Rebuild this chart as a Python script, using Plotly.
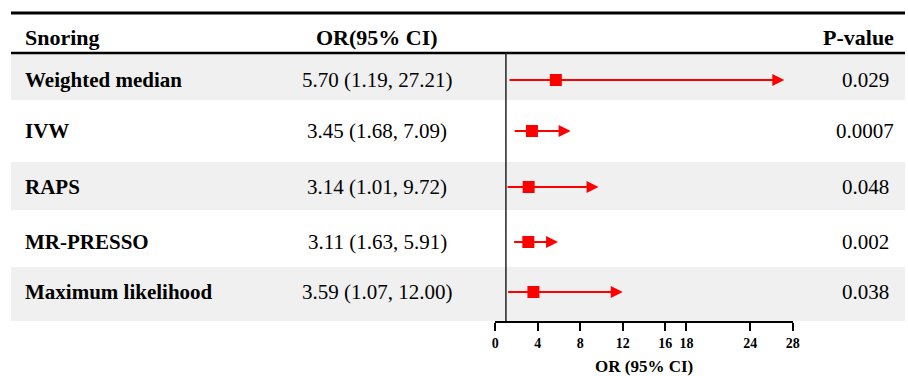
import plotly.graph_objects as go

# ---- data -------------------------------------------------------------
methods = ["Weighted median", "IVW", "RAPS", "MR-PRESSO", "Maximum likelihood"]
or_est = [5.70, 3.45, 3.14, 3.11, 3.59]
ci_low = [1.19, 1.68, 1.01, 1.63, 1.07]
ci_high = [27.21, 7.09, 9.72, 5.91, 12.00]
p_values = ["0.029", "0.0007", "0.048", "0.002", "0.038"]
x_ticks = [0, 4, 8, 12, 16, 18, 24, 28]

# ---- layout geometry (pixels, y grows downward) -----------------------
W, H = 908, 376
TABLE_L, TABLE_R = 11, 905
TOP_RULE_Y, HEAD_RULE_Y, HEAD_Y = 13, 53, 37
row_edges = [54, 100, 162, 210, 267, 321]
row_mid = [80, 131, 187, 242, 292]
AXIS_Y = row_edges[-1]
AXIS_TITLE_Y = 366
PLOT_L, PLOT_R = 495.3, 792.7

SERIF = "Liberation Serif, Times New Roman, serif"
RED = "#ff0000"


def px(x):
    return x / W


def py(y):
    return 1 - y / H


fig = go.Figure()

# point estimates
fig.add_trace(go.Scatter(
    x=or_est, y=row_mid, mode="markers",
    marker=dict(symbol="square", size=12, color=RED, line=dict(width=0)),
    hoverinfo="skip", showlegend=False,
))

shapes = []
# shaded rows
for i in range(0, len(methods), 2):
    shapes.append(dict(type="rect", xref="paper", yref="y",
                       x0=px(TABLE_L), x1=px(TABLE_R),
                       y0=row_edges[i], y1=row_edges[i + 1],
                       fillcolor="#f0f0f0", line=dict(width=0), layer="below"))
# table rules
shapes.append(dict(type="line", xref="paper", yref="y", x0=px(TABLE_L), x1=px(TABLE_R),
                   y0=TOP_RULE_Y, y1=TOP_RULE_Y, line=dict(color="black", width=3)))
shapes.append(dict(type="line", xref="paper", yref="y", x0=px(TABLE_L), x1=px(TABLE_R),
                   y0=HEAD_RULE_Y, y1=HEAD_RULE_Y, line=dict(color="black", width=2.5)))
# reference line at OR = 1
shapes.append(dict(type="line", xref="x", yref="y", x0=1, x1=1,
                   y0=HEAD_RULE_Y, y1=AXIS_Y, line=dict(color="#222222", width=1.5)))

annotations = []
# confidence intervals drawn as arrows ending at the upper limit
for lo, hi, y in zip(ci_low, ci_high, row_mid):
    annotations.append(dict(x=hi, y=y, ax=lo, ay=y, xref="x", yref="y",
                            axref="x", ayref="y", text="", showarrow=True,
                            arrowhead=2, arrowsize=1.2, arrowwidth=2, arrowcolor=RED))


def label(text, x, y, anchor, size=21, bold=False):
    annotations.append(dict(text=text, x=px(x), y=py(y), xref="paper", yref="paper",
                            xanchor=anchor, yanchor="middle", showarrow=False,
                            font=dict(family=SERIF, size=size, color="black",
                                      weight="bold" if bold else "normal")))


# header
label("Snoring", 23, HEAD_Y, "left", size=22, bold=True)
label("OR(95% CI)", 377, HEAD_Y, "center", size=22, bold=True)
label("P-value", 896, HEAD_Y, "right", size=22, bold=True)

# table body
for name, o, lo, hi, p, y in zip(methods, or_est, ci_low, ci_high, p_values, row_mid):
    label(name, 23, y, "left", bold=True)
    label(f"{o:.2f} ({lo:.2f}, {hi:.2f})", 377, y, "center")
    label(p, 865, y, "center")

# axis title
label("OR (95% CI)", (PLOT_L + PLOT_R) / 2, AXIS_TITLE_Y, "center", size=17, bold=True)

fig.update_layout(
    width=W, height=H,
    margin=dict(l=0, r=0, t=0, b=0, autoexpand=False),
    paper_bgcolor="white", plot_bgcolor="rgba(0,0,0,0)",
    shapes=shapes, annotations=annotations,
    xaxis=dict(
        domain=[px(PLOT_L), px(PLOT_R)], range=[0, 28], automargin=False,
        showgrid=False, zeroline=False,
        showline=True, linecolor="black", linewidth=1.5,
        ticks="outside", ticklen=8, tickwidth=1.5, tickcolor="black",
        tickmode="array", tickvals=x_ticks, ticktext=[str(t) for t in x_ticks],
        tickfont=dict(family=SERIF, size=14, color="black", weight="bold"),
        fixedrange=True,
    ),
    yaxis=dict(
        domain=[1 - AXIS_Y / H, 1], range=[AXIS_Y, 0], autorange=False, automargin=False,
        visible=False, showgrid=False, zeroline=False, fixedrange=True,
    ),
)

fig.write_html("out.html")
